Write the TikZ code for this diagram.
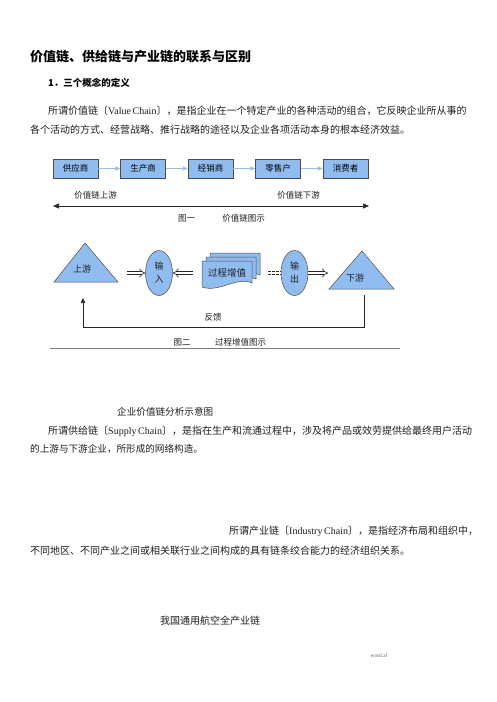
\documentclass[tikz,border=0pt]{standalone}
\usepackage{fontspec}
\setmainfont{Liberation Serif}
\newfontfamily\cjk{Noto Sans CJK SC}
\usetikzlibrary{arrows.meta,shapes.geometric}
\XeTeXlinebreaklocale "zh"
\XeTeXlinebreakskip=0pt plus 3pt
\definecolor{boxblue}{RGB}{145,188,240}
\definecolor{flowblue}{RGB}{150,190,225}
\definecolor{txt}{RGB}{30,30,30}
\tikzset{
  body/.style={anchor=west, inner sep=0, text=txt, font=\cjk\fontsize{10}{12}\selectfont},
  figtxt/.style={inner sep=0, text=txt, font=\cjk\fontsize{8.5}{10}\selectfont},
  vbox/.style={draw=black!70, fill=boxblue, minimum width=45pt, minimum height=19pt, inner sep=0, font=\cjk\fontsize{8.5}{10}\selectfont},
  flow/.style={draw=flowblue, line width=0.8pt, -{Triangle[length=5pt,width=4pt]}},
  shp/.style={draw=black!70, fill=boxblue, line width=0.5pt},
  dbl/.style={double=white, draw=black!85, double distance=2.6pt, line width=0.6pt, -{Implies}},
  dots/.style={double=white, draw=black!85, double distance=2.6pt, line width=0.6pt, dash pattern=on 3pt off 1pt},
  speck/.style={inner sep=0, text=black!40, font=\fontsize{5}{6}\selectfont}
}
\begin{document}
\begin{tikzpicture}[x=1pt,y=-1pt]
\useasboundingbox (0,0) rectangle (496,702);
\fill[white] (0,0) rectangle (496,702);
% header specks
\node[speck] (s1) at (89,36) {.};
\node[speck] (s2) at (407,36) {.};
% title
\node[anchor=west, inner sep=0, text=black, font=\cjk\bfseries\fontsize{13}{15}\selectfont] (title) at (30,57) {价值链、供给链与产业链的联系与区别};
\node[anchor=west, inner sep=0, text=black, font=\cjk\bfseries\fontsize{9.5}{11}\selectfont] (h1) at (48,83) {1．三个概念的定义};
\node[body] (p1a) at (48,111) {\makebox[414pt][s]{所谓价值链〔{\rmfamily Value Chain}〕，是指企业在一个特定产业的各种活动的组合，它反映企业所从事的}};
\node[body] (p1b) at (30,130) {\makebox[370pt][s]{各个活动的方式、经营战略、推行战略的途径以及企业各项活动本身的根本经济效益。}};
% figure 1
\node[vbox] (b1) at (75.5,168.5) {供应商};
\node[vbox] (b2) at (143,168.5) {生产商};
\node[vbox] (b3) at (210.5,168.5) {经销商};
\node[vbox] (b4) at (278,168.5) {零售户};
\node[vbox] (b5) at (345.5,168.5) {消费者};
\draw[flow] (b1) -- (b2);
\draw[flow] (b2) -- (b3);
\draw[flow] (b3) -- (b4);
\draw[flow] (b4) -- (b5);
\node[figtxt] (up1) at (95.5,195) {价值链上游};
\node[figtxt] (dn1) at (298.5,195) {价值链下游};
\coordinate (la) at (53,206);
\coordinate (ra) at (369,206);
\draw[black!85, line width=0.6pt, {Triangle[length=6pt,width=5pt]}-{Triangle[length=6pt,width=5pt]}] (la) -- (ra);
\node[figtxt] (c1a) at (186.5,218) {图一};
\node[figtxt] (c1b) at (243.5,218) {价值链图示};
% figure 2
\draw[shp] (85,243) -- (118,282) -- (54,282) -- cycle;
\node[figtxt, font=\cjk\fontsize{9}{10}\selectfont] (up) at (82,269) {上游};
\draw[shp] (362,251) -- (394,289) -- (329,289) -- cycle;
\node[figtxt, font=\cjk\fontsize{9}{10}\selectfont] (dn) at (355,278) {下游};
\node[ellipse, shp, minimum width=27pt, minimum height=45pt, inner sep=0, align=center, text=txt, font=\cjk\fontsize{9}{13}\selectfont] (in) at (159,273) {输\\入};
\node[ellipse, shp, minimum width=27pt, minimum height=45pt, inner sep=0, align=center, text=txt, font=\cjk\fontsize{9}{13}\selectfont] (out) at (294.5,273) {输\\出};
% document stack
\foreach \d in {8,4,0}{
  \draw[shp] (202+\d,261-\d) -- (252+\d,261-\d) -- (252+\d,283-\d) .. controls (236+\d,276-\d) and (220+\d,293-\d) .. (202+\d,287-\d) -- cycle;
}
\node[figtxt, font=\cjk\fontsize{9.5}{11}\selectfont] (proc) at (227,273) {过程增值};
\coordinate (a1s) at (127,273);
\draw[dbl] (a1s) -- (in.west);
\coordinate (a2s) at (193,273);
\draw[dbl] (a2s) -- (in.east);
\coordinate (a3s) at (268,273);
\draw[dots] (a3s) -- (out.west);
\coordinate (a4e) at (328,273);
\draw[dbl] (out.east) -- (a4e);
\coordinate (fbs) at (364,295);
\coordinate (fbc) at (364,327);
\coordinate (fbe) at (83,298);
\draw[black!85, line width=0.6pt, -{Triangle[length=5pt,width=4.5pt]}] (fbs) -- (fbc) -| (fbe);
\node[figtxt] (fb) at (213,317) {反馈};
\node[figtxt] (c2a) at (182,342) {图二};
\node[figtxt] (c2b) at (240.5,342) {过程增值图示};
\coordinate (hl1) at (50,348);
\coordinate (hl2) at (400,348);
\draw[black!50, line width=0.6pt] (hl1) -- (hl2);
% remaining text
\node[body, font=\cjk\fontsize{9.6}{12}\selectfont] (cap3) at (117,412) {企业价值链分析示意图};
\node[body] (p2a) at (48,431) {\makebox[414pt][s]{所谓供给链〔{\rmfamily Supply Chain}〕，是指在生产和流通过程中，涉及将产品或效劳提供给最终用户活动}};
\node[body, font=\cjk\fontsize{9.6}{12}\selectfont] (p2b) at (30,449) {的上游与下游企业，所形成的网络构造。};
\node[body] (p3a) at (229,531) {\makebox[239pt][s]{所谓产业链〔{\rmfamily Industry Chain}〕，是指经济布局和组织中，}};
\node[body] (p3b) at (30,551) {\makebox[373pt][s]{不同地区、不同产业之间或相关联行业之间构成的具有链条绞合能力的经济组织关系。}};
\node[body] (cap4) at (160,621) {我国通用航空全产业链};
\node[speck] (s3) at (108,656) {.};
\node[speck, text=black!60, font=\fontsize{5.5}{6}\selectfont] (foot) at (379,656) {word.zl};
\end{tikzpicture}
\end{document}
